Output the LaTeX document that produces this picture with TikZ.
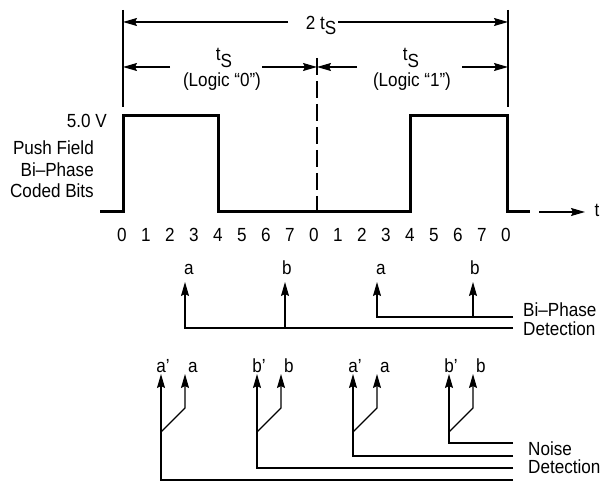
\documentclass[tikz,border=0pt]{standalone}
\usepackage{fontspec}
\setmainfont{Liberation Sans}[FakeStretch=0.9]
\usetikzlibrary{arrows.meta}

\newcommand{\lowsub}[2]{\raisebox{-#1}{#2}}

\begin{document}
\begin{tikzpicture}[x=1pt,y=-1pt,
	every node/.style={font=\fontsize{19}{22}\selectfont,inner sep=0pt},
	tip/.style={-{Stealth[length=14pt,width=8pt,inset=2pt]}},
	dim/.style={line width=1.2pt,tip},
	bar/.style={line width=1.2pt},
	wave/.style={line width=3pt},
	det/.style={line width=1.2pt,tip}]
	\useasboundingbox (0,0) rectangle (603,481);

	% period marks
	\coordinate (lt) at (123,10);
	\coordinate (lb) at (123,107);
	\coordinate (rt) at (508,10);
	\coordinate (rb) at (508,107);
	\coordinate (mt) at (317,58);
	\coordinate (mb) at (317,212);
	\draw[bar] (lt) -- (lb);
	\draw[bar] (rt) -- (rb);
	\draw[bar,dash pattern=on 17pt off 6pt] (mt) -- (mb);

	\node[anchor=base] (twots) at (321,30) {2 t\lowsub{5pt}{S}};
	\draw[dim] (288,22) -- (lt |- 0,22);
	\draw[dim] (338,22) -- (rt |- 0,22);

	\node[anchor=base] (tszero) at (224,61) {t\lowsub{7pt}{S}};
	\node[anchor=base] (logiczero) at (222,87) {(Logic “0”)};
	\node[anchor=base] (tsone) at (411,61) {t\lowsub{7pt}{S}};
	\node[anchor=base] (logicone) at (412,87) {(Logic “1”)};
	\draw[dim] (170,67) -- (lt |- 0,67);
	\draw[dim] (262,67) -- (mt |- 0,67);
	\draw[dim] (357,67) -- (mt |- 0,67);
	\draw[dim] (462,67) -- (rt |- 0,67);

	% coded bits
	\node[anchor=base east] (volt) at (107,128) {5.0 V};
	\node[anchor=base east] (push) at (94,155) {Push Field};
	\node[anchor=base east] (biph) at (94,177) {Bi–Phase};
	\node[anchor=base east] (coded) at (94,198) {Coded Bits};
	\draw[wave] (100,212) -- (123,212) -- (123,116) -- (218,116) -- (218,212)
		-- (410,212) -- (410,116) -- (507,116) -- (507,212) -- (530,212);
	\draw[dim] (539,212) -- (585,212);
	\node[anchor=base] (tlabel) at (597,217) {t};

	\foreach \i in {0,...,16} {
		\pgfmathtruncatemacro\d{mod(\i,8)}
		\node[anchor=base] (tick\i) at (122+24*\i,242) {\d};
	}

	% bi-phase detection
	\foreach \xa/\xb/\yh [count=\k] in {185/285/328,377/473/317} {
		\node[anchor=base] (bpa\k) at (\xa+4,275) {a};
		\node[anchor=base] (bpb\k) at (\xb+2,275) {b};
		\draw[det] (513,\yh) -| (\xa,282);
		\draw[det] (\xb,\yh) -- (\xb,282);
	}
	\node[anchor=base west] (bpdet1) at (523,317) {Bi–Phase};
	\node[anchor=base west] (bpdet2) at (523,335) {Detection};

	% noise detection
	\foreach \xa/\yh/\p [count=\k] in {161/480/a,257/468/b,353/456/a,449/443/b} {
		\node[anchor=base] (nda\k) at (\xa+2,372) {\p’};
		\node[anchor=base] (ndb\k) at (\xa+32,372) {\p};
		\draw[det] (513,\yh) -| (\xa,374);
		\draw[det] (\xa,432) -- (\xa+24,408) -- (\xa+24,374);
	}
	\node[anchor=base west] (nddet1) at (528,455) {Noise};
	\node[anchor=base west] (nddet2) at (528,473) {Detection};
\end{tikzpicture}
\end{document}
